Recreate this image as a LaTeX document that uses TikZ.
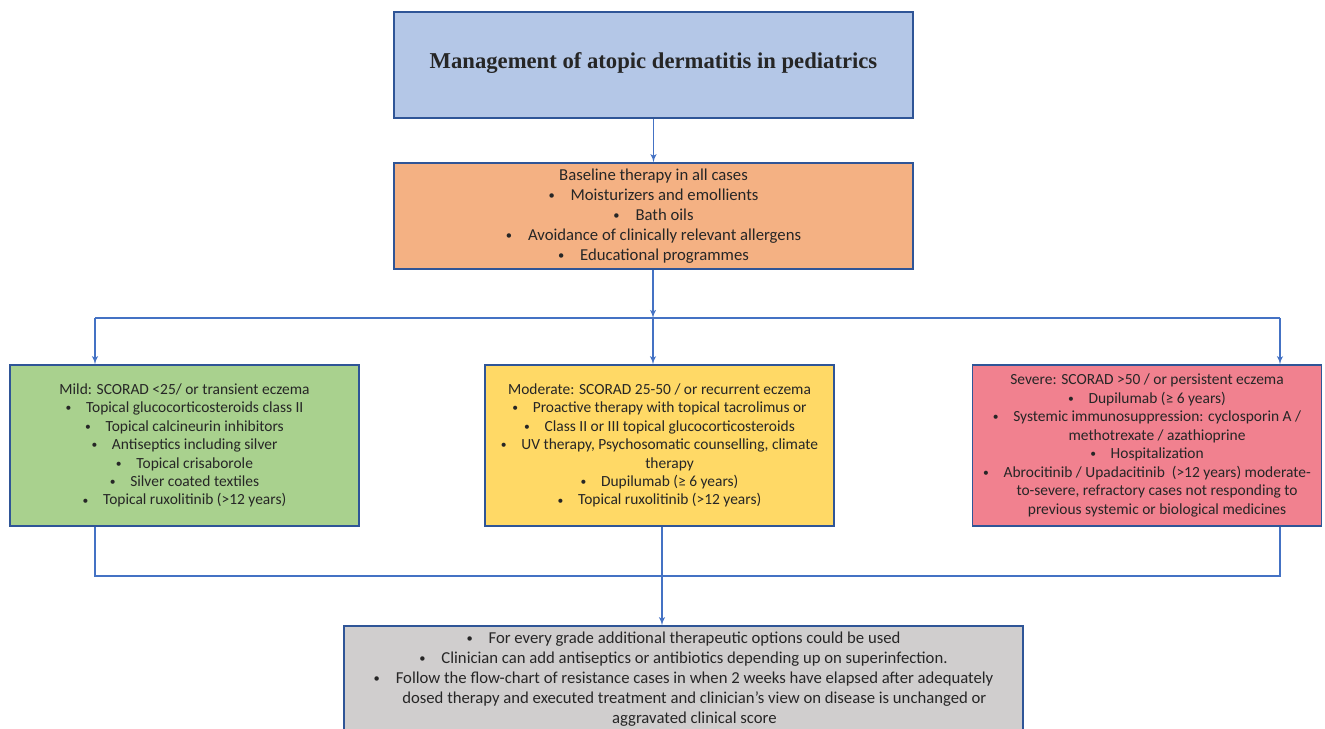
\documentclass[tikz,border=0pt]{standalone}
\usepackage{fontspec}
\setmainfont{Carlito}
\newfontfamily\titlefont{Liberation Serif}
\usepackage{tikz}
\usetikzlibrary{arrows, positioning}
\definecolor{lineblue}{HTML}{4472C4}
\definecolor{edgeblue}{HTML}{2F5597}
\definecolor{txt}{HTML}{262626}
\definecolor{titlefill}{HTML}{B4C7E7}
\definecolor{basefill}{HTML}{F4B183}
\definecolor{mildfill}{HTML}{A9D18E}
\definecolor{modfill}{HTML}{FFD966}
\definecolor{sevfill}{HTML}{F1818F}
\definecolor{notefill}{HTML}{D0CECE}
\newcommand{\itm}{\raisebox{0.12ex}{\scalebox{0.75}{\textbullet}}\hspace{0.95em}}
\newcommand{\hang}{\hspace*{1.3em}}
\tikzstyle{block} = [rectangle, draw=edgeblue, line width=0.8pt, text=txt,
    align=center, inner sep=2pt, font=\fontsize{9.5}{11.4}\selectfont]
\tikzstyle{grade} = [block, minimum width=6.98cm, minimum height=3.22cm,
    font=\fontsize{8.8}{10.5}\selectfont]
\begin{document}
\begin{tikzpicture}[
x=0.02cm, y=-0.02cm,
link/.style = {draw=lineblue, line width=0.6pt},
arrowlink/.style = {link, -latex'}
                        ]
\useasboundingbox (0,0) rectangle (1325,729);
\clip (0,0) rectangle (1325,729);
% top
\node [block, fill=titlefill, minimum width=10.38cm, minimum height=2.12cm,
  font=\titlefont\bfseries\fontsize{12.9}{14}\selectfont] (title) at (653.5,65)
  {\raisebox{5pt}{Management of atopic dermatitis in pediatrics}};
\node [block, fill=basefill, minimum width=10.38cm, minimum height=2.12cm] (base) at (653.5,216)
  {Baseline therapy in all cases\\
   \itm Moisturizers and emollients\\
   \itm Bath oils\\
   \itm Avoidance of clinically relevant allergens\\
   \itm Educational programmes};
% grades
\node [grade, fill=mildfill] (mild) at (184.5,445.5)
  {Mild: SCORAD <25/ or transient eczema\\
   \itm Topical glucocorticosteroids class II\\
   \itm Topical calcineurin inhibitors\\
   \itm Antiseptics including silver\\
   \itm Topical crisaborole\\
   \itm Silver coated textiles\\
   \itm Topical ruxolitinib (>12 years)};
\node [grade, fill=modfill] (mod) at (659.5,445.5)
  {Moderate: SCORAD 25-50 / or recurrent eczema\\
   \itm Proactive therapy with topical tacrolimus or\\
   \itm Class II or III topical glucocorticosteroids\\
   \itm UV therapy, Psychosomatic counselling, climate\\
   \hang therapy\\
   \itm Dupilumab (≥ 6 years)\\
   \itm Topical ruxolitinib (>12 years)};
\node [grade, fill=sevfill] (sev) at (1147,445.5)
  {Severe: SCORAD >50 / or persistent eczema\\
   \itm Dupilumab (≥ 6 years)\\
   \itm Systemic immunosuppression: cyclosporin A /\\
   \hang methotrexate / azathioprine\\
   \itm Hospitalization\\
   \itm Abrocitinib / Upadacitinib~ (>12 years) moderate-\\
   \hang to-severe, refractory cases not responding to\\
   \hang previous systemic or biological medicines};
% notes
\node [block, fill=notefill, minimum width=13.58cm, minimum height=2.12cm] (note) at (683.5,679)
  {\itm For every grade additional therapeutic options could be used\\
   \itm Clinician can add antiseptics or antibiotics depending up on superinfection.\\
   \itm Follow the flow-chart of resistance cases in when 2 weeks have elapsed after adequately\\
   \hang dosed therapy and executed treatment and clinician's view on disease is unchanged or\\
   \hang aggravated clinical score};
% junctions
\coordinate (splitM) at (653,318);
\coordinate (splitL) at (95,318);
\coordinate (splitR) at (1280,318);
\coordinate (joinL) at (95,576);
\coordinate (joinR) at (1280,576);
\coordinate (joinM) at (662,576);
% connectors
\draw [arrowlink] (title) -- (base);
\draw [arrowlink] (base.south -| splitM) -- (splitM);
\draw [link] (splitL) -- (splitR);
\draw [arrowlink] (splitM) -- (splitM |- mod.north);
\draw [arrowlink] (splitL) -- (splitL |- mild.north);
\draw [arrowlink] (splitR) -- (splitR |- sev.north);
\draw [link] (joinL |- mild.south) -- (joinL) -- (joinR) -- (joinR |- sev.south);
\draw [arrowlink] (joinM |- mod.south) -- (joinM |- note.north);
\end{tikzpicture}
\end{document}
